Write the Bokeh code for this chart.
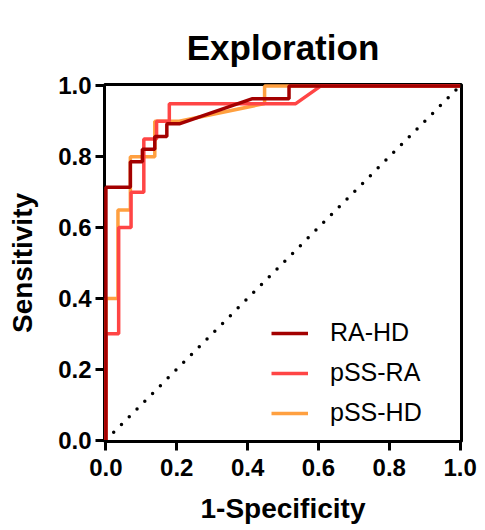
from bokeh.plotting import figure
from bokeh.models import Range1d, FixedTicker, Legend, LegendItem, Title
from bokeh.embed import file_html
from bokeh.resources import INLINE

# ---- data ----
ra_hd_fpr = [0, 0, 0.069, 0.069, 0.103, 0.103, 0.138, 0.138, 0.172, 0.172, 0.207, 0.414, 0.517, 0.517, 1.0]
ra_hd_tpr = [0, 0.714, 0.714, 0.786, 0.786, 0.821, 0.821, 0.857, 0.857, 0.893, 0.893, 0.964, 0.964, 1.0, 1.0]

pss_ra_fpr = [0, 0, 0.036, 0.036, 0.071, 0.071, 0.107, 0.107, 0.143, 0.143, 0.179, 0.179, 0.536, 0.607, 1.0]
pss_ra_tpr = [0, 0.30, 0.30, 0.60, 0.60, 0.70, 0.70, 0.85, 0.85, 0.90, 0.90, 0.95, 0.95, 1.0, 1.0]

pss_hd_fpr = [0, 0, 0.034, 0.034, 0.069, 0.069, 0.138, 0.138, 0.207, 0.448, 0.448, 1.0]
pss_hd_tpr = [0, 0.40, 0.40, 0.65, 0.65, 0.80, 0.80, 0.90, 0.90, 0.95, 1.0, 1.0]

chance_x = [0, 1]
chance_y = [0, 1]

series_names = ["RA-HD", "pSS-RA", "pSS-HD"]
tick_values = [0, 0.2, 0.4, 0.6, 0.8, 1.0]
tick_labels = ["0.0", "0.2", "0.4", "0.6", "0.8", "1.0"]

title_text = "Exploration"
x_label = "1-Specificity"
y_label = "Sensitivity"

# ---- styling ----
FONT = "Liberation Sans"
C_RAHD = "#A30000"
C_PSSRA = "#FF4545"
C_PSSHD = "#FFA040"
LW = 3.5

p = figure(width=485, height=530,
           x_range=Range1d(-0.004, 1.004), y_range=Range1d(-0.004, 1.004),
           output_backend="svg", toolbar_location=None,
           min_border_left=104, min_border_right=24,
           min_border_top=84, min_border_bottom=89)

p.title = Title(text=title_text, align="center", text_font=FONT,
                text_font_size="35px", text_font_style="bold", text_color="black",
                standoff=36)

p.xgrid.visible = False
p.ygrid.visible = False
p.outline_line_color = "black"
p.outline_line_width = 3
p.outline_line_alpha = 1.0
p.background_fill_color = "white"
p.border_fill_color = "white"

for ax, lab in ((p.xaxis[0], x_label), (p.yaxis[0], y_label)):
    ax.ticker = FixedTicker(ticks=tick_values)
    ax.major_label_overrides = {v: t for v, t in zip(tick_values, tick_labels)}
    ax.axis_label = lab
    ax.axis_label_text_font = FONT
    ax.axis_label_text_font_size = "28px"
    ax.axis_label_text_font_style = "bold"
    ax.axis_label_text_color = "black"
    ax.axis_label_text_line_height = 1.0
    ax.major_label_text_font = FONT
    ax.major_label_text_font_size = "24px"
    ax.major_label_text_font_style = "bold"
    ax.major_label_text_color = "black"
    ax.major_label_text_line_height = 1.0
    ax.axis_line_width = 3
    ax.axis_line_color = "black"
    ax.major_tick_line_width = 3
    ax.major_tick_line_color = "black"
    ax.major_tick_out = 9
    ax.major_tick_in = 0
    ax.minor_tick_line_color = None

p.xaxis[0].major_label_standoff = 8
p.xaxis[0].axis_label_standoff = 14
p.yaxis[0].major_label_standoff = 4
p.yaxis[0].axis_label_standoff = 17

p.line(chance_x, chance_y, line_color="black", line_width=3.5,
       line_dash="0 11", line_cap="round")

r3 = p.line(pss_hd_fpr, pss_hd_tpr, line_color=C_PSSHD, line_width=LW, level="overlay")
r2 = p.line(pss_ra_fpr, pss_ra_tpr, line_color=C_PSSRA, line_width=LW, level="overlay")
r1 = p.line(ra_hd_fpr, ra_hd_tpr, line_color=C_RAHD, line_width=LW, level="overlay")

legend = Legend(items=[LegendItem(label=series_names[0], renderers=[r1]),
                       LegendItem(label=series_names[1], renderers=[r2]),
                       LegendItem(label=series_names[2], renderers=[r3])],
                location=(167, 14),
                label_text_font=FONT, label_text_font_size="25px",
                label_text_color="black",
                glyph_width=37, glyph_height=20, label_standoff=22,
                label_height=20, spacing=11, padding=0, margin=0,
                border_line_color=None, background_fill_alpha=0)
p.add_layout(legend, "center")

open("out.html", "w").write(file_html(p, INLINE))
